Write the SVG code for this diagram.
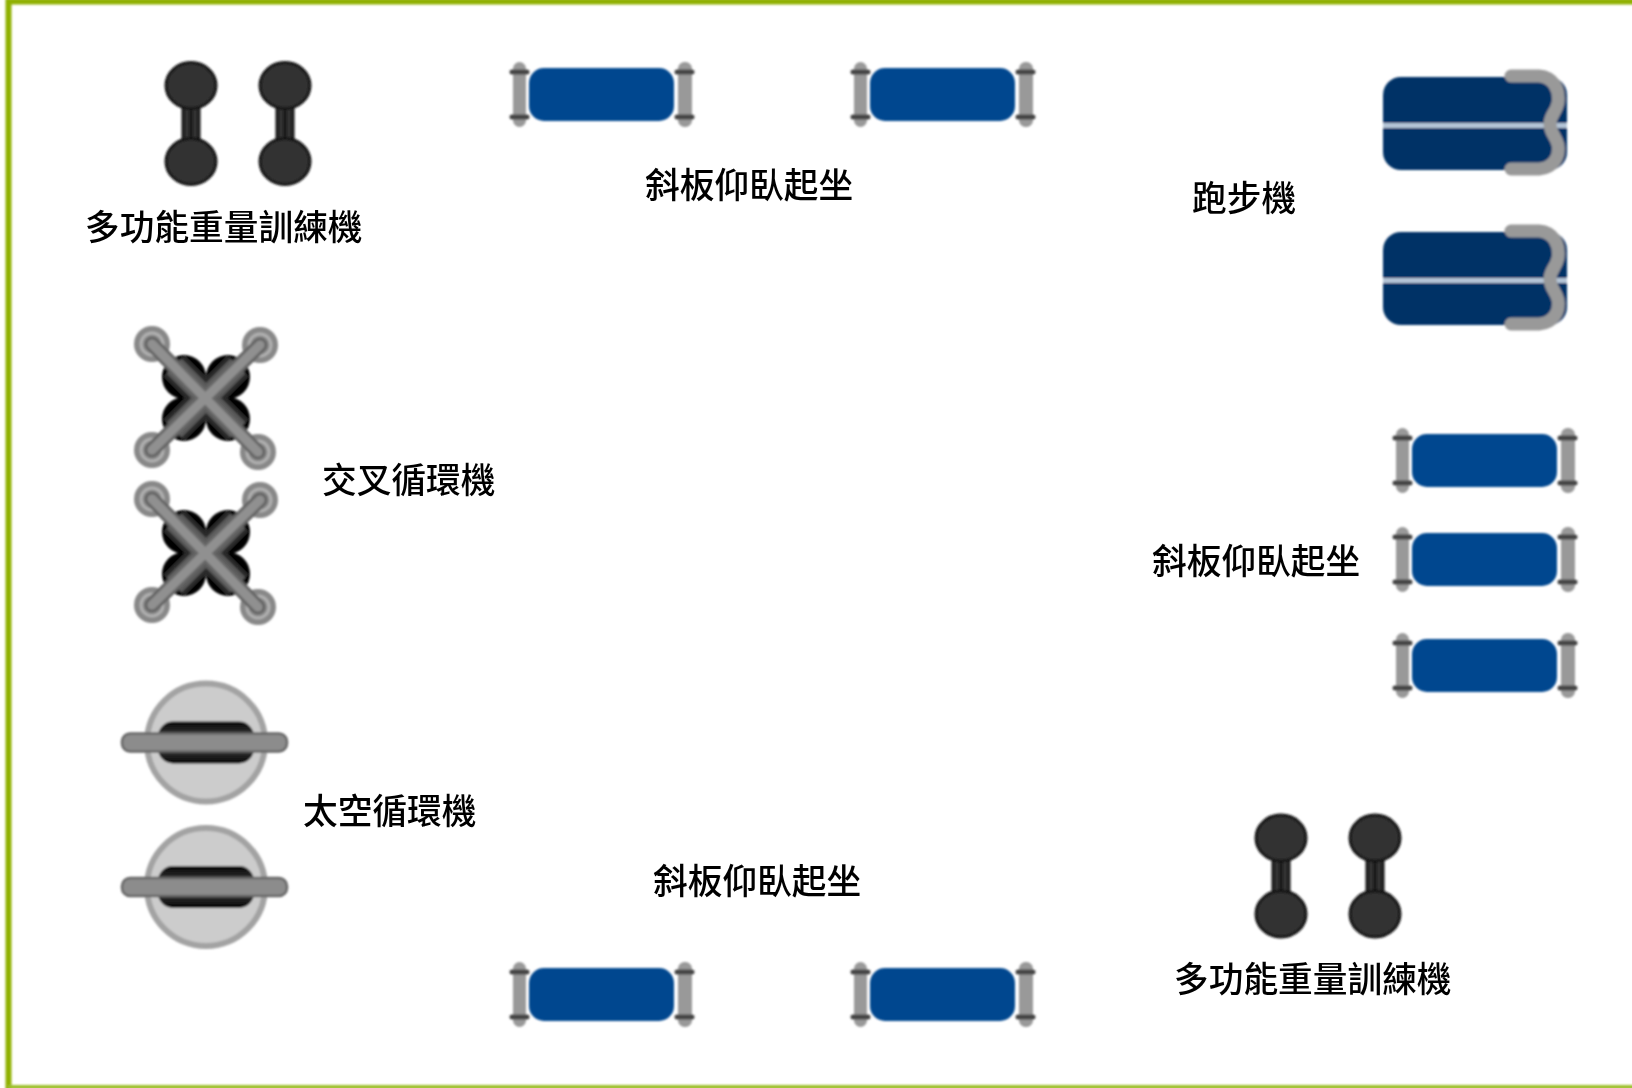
<svg xmlns="http://www.w3.org/2000/svg" width="1632" height="1088" viewBox="0 0 1632 1088">
<style>
text{font-family:"Noto Sans CJK TC","Noto Sans CJK SC",sans-serif;font-size:34.7px;font-weight:500;fill:#000;filter:url(#soft-text)}
.shapes{filter:url(#soft)}
.bench{fill:#00478f}
.rail{fill:#999}
.clip{stroke:#444;stroke-width:5;stroke-linecap:round;fill:none}
.bell{fill:#333;stroke:#151515;stroke-width:3}
</style>
<defs>
<filter id="soft" filterUnits="userSpaceOnUse" x="-10" y="-10" width="1652" height="1108"><feGaussianBlur stdDeviation="0.9"/></filter>
<filter id="soft-text" x="-5%" y="-10%" width="110%" height="120%"><feGaussianBlur stdDeviation="0.45"/></filter>
<linearGradient id="bodyShade" x1="0" y1="0" x2="0" y2="1"><stop offset="0" stop-color="#050505"/><stop offset=".25" stop-color="#2a2a2a"/><stop offset=".5" stop-color="#777"/><stop offset=".75" stop-color="#2a2a2a"/><stop offset="1" stop-color="#050505"/></linearGradient>
<g id="bench">
<rect x="3" y="-7" width="13" height="65" rx="6.5" class="rail"/>
<rect x="168" y="-7" width="14" height="65" rx="6.5" class="rail"/>
<rect x="19" y="-1" width="145" height="53" rx="15" class="bench"/>
<path d="M2 3H17M2 48H17M167 3H182M167 48H182" class="clip"/>
</g>
<g id="dumbbell">
<rect x="-8" y="15" width="16" height="50" class="bell"/>
<path d="M0 15V65" stroke="#1c1c1c" stroke-width="4"/>
<ellipse cx="0" cy="0" rx="25" ry="23" class="bell"/>
<ellipse cx="0" cy="76" rx="25" ry="23" class="bell"/>
</g>
<g id="tread">
<rect x="0" y="0" width="184" height="93" rx="18" fill="#003366"/>
<rect x="0" y="46" width="184" height="5" fill="#b4c4d6"/>
<path d="M128 -1H156C170 0 177 12 175 26C173 36 167 38 167 47C167 56 173 59 175 68C177 80 170 91 156 92H128" fill="none" stroke="#999" stroke-width="13" stroke-linejoin="round" stroke-linecap="round"/>
</g>
<g id="cross">
<g fill="#050505"><circle cx="-22" cy="-21" r="22"/><circle cx="22" cy="-21" r="22"/><circle cx="-22" cy="21" r="22"/><circle cx="22" cy="21" r="22"/></g>
<path d="M-32 -32L32 32M32 -32L-32 32" stroke="#2c2c2c" stroke-width="30"/>
<path d="M-32 -32L32 32M32 -32L-32 32" stroke="#5a5a5a" stroke-width="21"/>
<g fill="#888"><circle cx="-54" cy="-54" r="18"/><circle cx="54" cy="-53" r="18"/><circle cx="-54" cy="52" r="18"/><circle cx="52" cy="54" r="18"/></g>
<g fill="none" stroke="#b0b0b0" stroke-width="3"><circle cx="-54" cy="-54" r="11"/><circle cx="54" cy="-53" r="11"/><circle cx="-54" cy="52" r="11"/><circle cx="52" cy="54" r="11"/></g>
<path d="M-54 -54L52 54M54 -53L-54 52" stroke="#666" stroke-width="15" stroke-linecap="round"/>
<path d="M-54 -54L52 54M54 -53L-54 52" stroke="#909090" stroke-width="9" stroke-linecap="round"/>
</g>
<g id="space">
<circle cx="0" cy="0" r="59" fill="#ccc" stroke="#a3a3a3" stroke-width="6"/>
<rect x="-48" y="-21" width="96" height="42" rx="15" fill="url(#bodyShade)"/>
<rect x="-84" y="-9" width="165" height="18" rx="8" fill="#8c8c8c" stroke="#666" stroke-width="2.5"/>
</g>
</defs>
<g id="floor" class="shapes"><path d="M8.5 1092V1.5H1640" fill="none" stroke="#8fb000" stroke-width="6"/><path d="M8 1087H1640" fill="none" stroke="#9cbf2c" stroke-width="4"/></g>
<g id="multi-1"><g class="shapes"><use href="#dumbbell" x="191" y="85.5"/><use href="#dumbbell" x="285" y="85.5"/></g><text x="85" y="239.5">多功能重量訓練機</text></g>
<g id="bench-top"><g class="shapes"><use href="#bench" x="510" y="69"/><use href="#bench" x="851" y="69"/></g><text x="645" y="197.5">斜板仰臥起坐</text></g>
<g id="treadmill"><g class="shapes"><use href="#tread" x="1383" y="77"/><use href="#tread" x="1383" y="232"/></g><text x="1192" y="210.5">跑步機</text></g>
<g id="cross-trainer"><g class="shapes"><use href="#cross" x="206" y="398"/><use href="#cross" x="206" y="553"/></g><text x="322" y="492.5">交叉循環機</text></g>
<g id="space-walker"><g class="shapes"><use href="#space" x="206" y="742.5"/><use href="#space" x="206" y="887"/></g><text x="303" y="823.5">太空循環機</text></g>
<g id="bench-right"><g class="shapes"><use href="#bench" x="1393" y="435"/><use href="#bench" x="1393" y="534"/><use href="#bench" x="1393" y="640"/></g><text x="1152" y="573.5">斜板仰臥起坐</text></g>
<g id="bench-bottom"><g class="shapes"><use href="#bench" x="510" y="969"/><use href="#bench" x="851" y="969"/></g><text x="653" y="893.5">斜板仰臥起坐</text></g>
<g id="multi-2"><g class="shapes"><use href="#dumbbell" x="1281" y="838"/><use href="#dumbbell" x="1375" y="838"/></g><text x="1174" y="991.5">多功能重量訓練機</text></g>
</svg>
